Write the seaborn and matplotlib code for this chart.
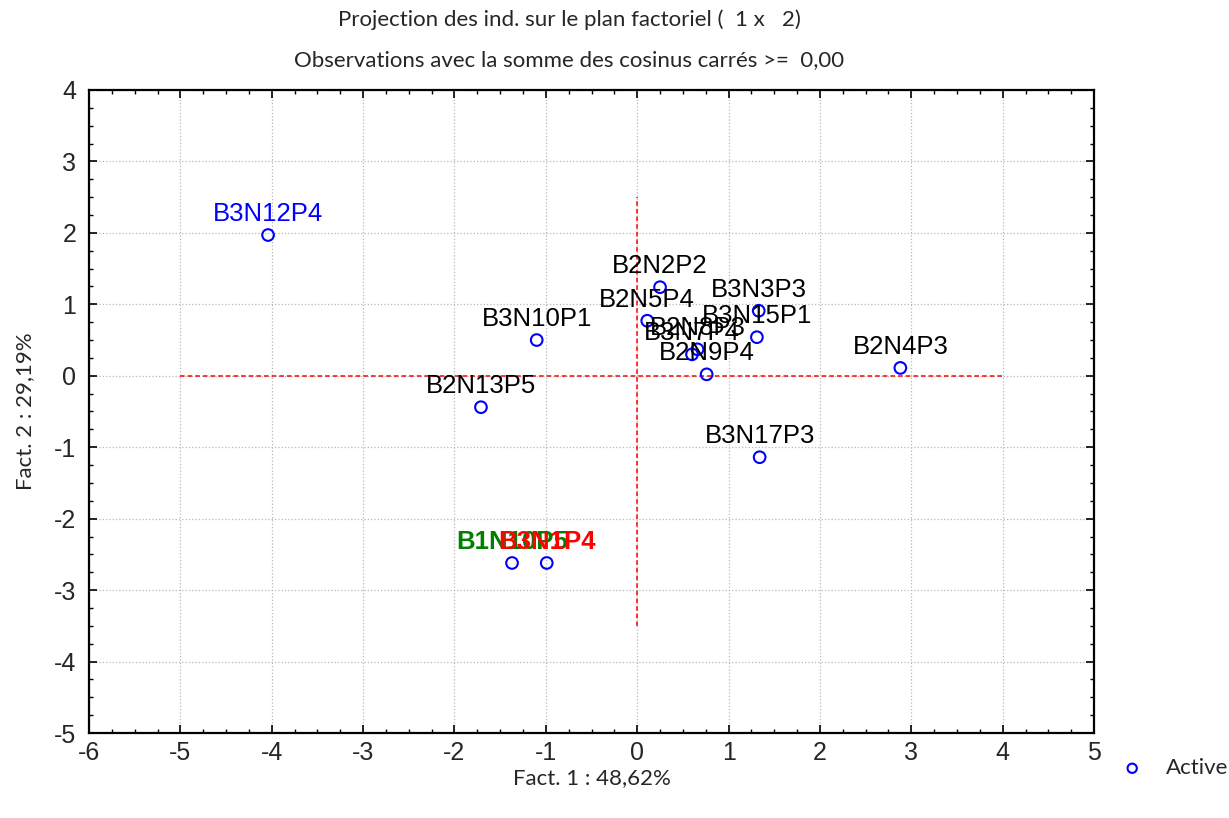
import pandas as pd
import seaborn as sns
import matplotlib.pyplot as plt
from matplotlib.ticker import MultipleLocator, AutoMinorLocator

sns.set_theme(style="ticks")
plt.rcParams['font.family'] = ['Liberation Sans', 'DejaVu Sans']
plt.rcParams['axes.unicode_minus'] = False

# individuals on the factorial plane
names = ['B3N12P4', 'B3N10P1', 'B2N13P5', 'B1N10P5', 'B3N1P4', 'B2N2P2', 'B2N5P4',
         'B2N8P3', 'B3N7P4', 'B2N9P4', 'B3N3P3', 'B3N15P1', 'B3N17P3', 'B2N4P3']
fact1 = [-4.04, -1.10, -1.71, -1.37, -0.99, 0.25, 0.11,
         0.66, 0.60, 0.76, 1.33, 1.31, 1.34, 2.88]
fact2 = [1.97, 0.50, -0.44, -2.62, -2.62, 1.24, 0.77,
         0.37, 0.30, 0.02, 0.91, 0.54, -1.14, 0.11]

# highlighted labels
label_colors = {'B3N12P4': 'blue', 'B1N10P5': '#008000', 'B3N1P4': 'red'}
bold_labels = ['B1N10P5', 'B3N1P4']

# red reference cross
h_line_x = [-5, 4]
v_line_y = [-3.5, 2.5]

df = pd.DataFrame({'name': names, 'f1': fact1, 'f2': fact2})

fig = plt.figure(figsize=(12.29, 8.18), dpi=100)
ax = fig.add_axes([0.0724, 0.1039, 0.8178, 0.7861])

ax.grid(True, which='major', linestyle=':', color='#b8b8b8', linewidth=0.9)
ax.set_axisbelow(True)

ax.hlines(0, h_line_x[0], h_line_x[1], colors='red', linestyles=(0, (3, 2)), linewidth=1.1, zorder=2)
ax.vlines(0, v_line_y[0], v_line_y[1], colors='red', linestyles=(0, (3, 2)), linewidth=1.1, zorder=2)

sns.scatterplot(data=df, x='f1', y='f2', ax=ax, marker='o', s=70,
                facecolors='none', edgecolor='blue', linewidth=1.5,
                label='Active', zorder=3)

for n, x, y in zip(names, fact1, fact2):
    ax.annotate(n, (x, y), xytext=(0, 10), textcoords='offset points',
                ha='center', va='baseline', fontsize=18.5,
                color=label_colors.get(n, 'black'),
                fontweight='bold' if n in bold_labels else 'normal', zorder=4)

ax.set_xlim(-6, 5)
ax.set_ylim(-5, 4)
ax.xaxis.set_major_locator(MultipleLocator(1))
ax.yaxis.set_major_locator(MultipleLocator(1))
ax.xaxis.set_minor_locator(AutoMinorLocator(4))
ax.yaxis.set_minor_locator(AutoMinorLocator(4))
ax.tick_params(which='both', direction='in', top=True, right=True, color='black')
ax.tick_params(which='major', length=6, width=1.2, labelsize=18, pad=9)
ax.tick_params(axis='x', which='major', pad=6)
ax.tick_params(which='minor', length=3, width=1.0)
for s in ax.spines.values():
    s.set_color('black')
    s.set_linewidth(1.6)

cal = ['Lato', 'DejaVu Sans']
ax.set_xlabel('Fact. 1 : 48,62%', fontsize=16, family=cal, labelpad=2)
ax.set_ylabel('Fact. 2 : 29,19%', fontsize=16, family=cal, labelpad=14)

fig.text(0.463, 0.9756, 'Projection des ind. sur le plan factoriel (  1 x   2)',
         ha='center', va='center', fontsize=16, family=cal)
fig.text(0.463, 0.9267, 'Observations avec la somme des cosinus carrés >=  0,00',
         ha='center', va='center', fontsize=16, family=cal)

leg = ax.legend(loc='center left', bbox_to_anchor=(0.914, 0.061),
                bbox_transform=fig.transFigure, frameon=False,
                prop={'family': cal, 'size': 16}, handletextpad=1.1,
                handlelength=0.8, markerscale=0.8, borderpad=0, borderaxespad=0)

fig.savefig('out.png', dpi=100)
